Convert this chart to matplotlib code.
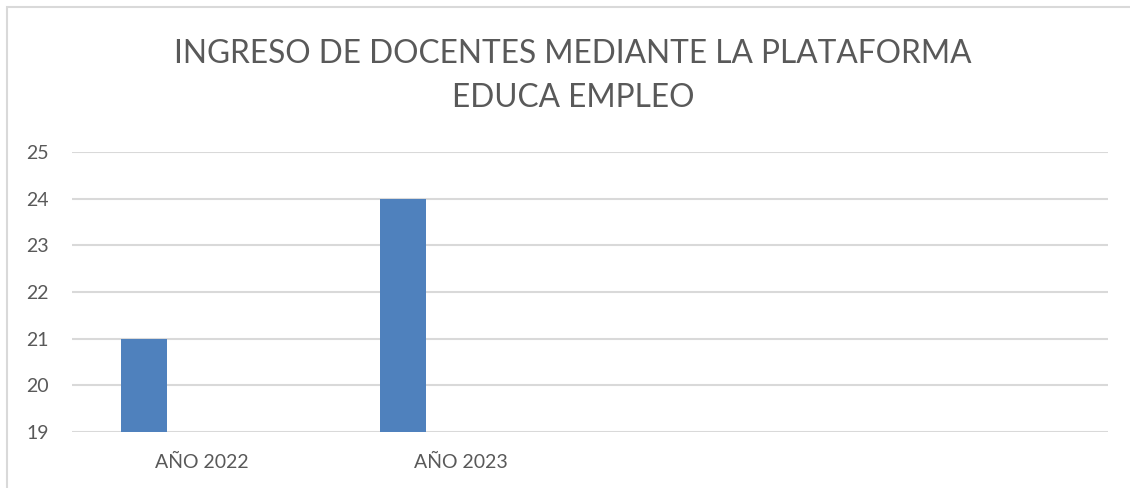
import matplotlib.pyplot as plt
from matplotlib.patches import Rectangle

# Données
categories = ["AÑO 2022", "AÑO 2023", "", ""]
valeurs = [21, 24, None, None]
y_ticks = [19, 20, 21, 22, 23, 24, 25]

titre = "INGRESO DE DOCENTES MEDIANTE LA PLATAFORMA\nEDUCA EMPLEO"

gris_texte = "#595959"
gris_grille = "#D9D9D9"
bleu = "#4F81BD"

plt.rcParams['font.family'] = ['Lato', 'DejaVu Sans']

fig = plt.figure(figsize=(11.3, 4.88), dpi=100)
W, H = 1130, 488

# cadre du graphique (style Excel)
fig.patches.append(Rectangle((7 / W, -0.1), 1.2, 1 - 7 / H + 0.1,
                             transform=fig.transFigure, fill=False,
                             edgecolor="#D9D9D9", linewidth=1.5))

ax = fig.add_axes([72 / W, 1 - 432 / H, (1108 - 72) / W, (432 - 152) / H])

# barres : décalées à gauche dans chaque catégorie
for i, v in enumerate(valeurs):
    if v is not None:
        ax.bar(i - 0.222, v - y_ticks[0], bottom=y_ticks[0], width=0.174,
               color=bleu, zorder=3)

ax.set_xlim(-0.5, len(categories) - 0.5)
ax.set_ylim(y_ticks[0], y_ticks[-1])
ax.set_yticks(y_ticks)
ax.set_xticks(range(len(categories)))
ax.set_xticklabels(categories)
ax.grid(axis='y', color=gris_grille, linewidth=1.5, zorder=0)
ax.tick_params(axis='both', length=0, labelsize=14, colors=gris_texte)
ax.tick_params(axis='x', pad=16)
ax.tick_params(axis='y', pad=33)
for lbl in ax.get_yticklabels():
    lbl.set_horizontalalignment('left')
for s in ax.spines.values():
    s.set_visible(False)

fig.text(573 / W, 1 - 76 / H, titre, ha='center', va='center',
         fontsize=22.8, color=gris_texte, linespacing=1.6)

fig.savefig("out.png", dpi=100)
